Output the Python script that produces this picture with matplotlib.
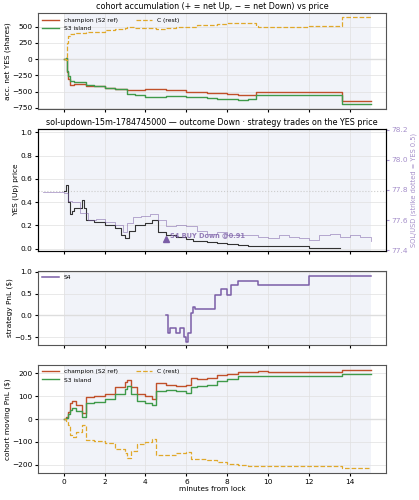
import matplotlib
matplotlib.use("Agg")
import matplotlib.pyplot as plt
import numpy as np

# top panel: accumulation
t_acc = [0, 0.1, 0.15, 0.2, 0.3, 0.5, 1.0, 1.1, 1.5, 2.0, 2.5, 3.0, 3.1, 3.5, 4.0, 4.5, 5.0, 5.5, 6.0, 6.5, 7.0, 7.5, 8.0, 8.5, 9.0, 9.4, 9.5, 10, 11, 12, 13, 13.5, 13.6, 15]
champ = [0, 20, -200, -300, -400, -380, -390, -410, -420, -440, -455, -460, -480, -470, -460, -465, -470, -480, -500, -510, -520, -520, -540, -550, -560, -500, -510, -510, -510, -510, -510, -510, -640, -640]
s3 = [0, 10, -180, -260, -340, -360, -350, -400, -420, -440, -455, -460, -530, -560, -580, -590, -570, -575, -580, -590, -600, -610, -620, -630, -620, -550, -560, -560, -560, -560, -560, -560, -690, -690]
crest = [0, -10, 250, 350, 390, 400, 400, 410, 420, 440, 460, 470, 500, 480, 470, 460, 480, 490, 500, 520, 530, 540, 550, 560, 560, 510, 500, 500, 500, 505, 510, 510, 640, 640]

# second panel: YES price and SOL
t_yes = [0, 0.1, 0.2, 0.3, 0.4, 0.5, 0.7, 0.9, 1.0, 1.1, 1.5, 2.0, 2.5, 2.8, 3.0, 3.2, 3.5, 4.0, 4.3, 4.5, 4.6, 5.0, 5.5, 6.0, 6.3, 7.0, 7.5, 8.0, 8.5, 9.0, 10, 11, 12, 13.5]
yes = [0.5, 0.55, 0.4, 0.3, 0.32, 0.35, 0.35, 0.42, 0.35, 0.25, 0.23, 0.2, 0.18, 0.12, 0.09, 0.15, 0.2, 0.22, 0.25, 0.25, 0.14, 0.12, 0.1, 0.08, 0.07, 0.06, 0.05, 0.04, 0.03, 0.02, 0.02, 0.02, 0.01, 0.01]
t_sol = [-1.0, -0.2, 0, 0.2, 0.4, 0.8, 1.2, 1.6, 2.0, 2.5, 2.9, 3.1, 3.4, 3.8, 4.2, 4.6, 5.0, 5.5, 6.0, 6.5, 7.0, 7.5, 8.0, 8.5, 9.0, 9.5, 10, 10.5, 11, 11.5, 12, 12.5, 13, 13.5, 14, 14.5, 15]
sol = [77.79, 77.79, 77.78, 77.73, 77.72, 77.65, 77.6, 77.61, 77.59, 77.57, 77.52, 77.58, 77.62, 77.63, 77.64, 77.6, 77.56, 77.57, 77.56, 77.53, 77.51, 77.52, 77.5, 77.5, 77.5, 77.49, 77.48, 77.5, 77.49, 77.48, 77.47, 77.5, 77.51, 77.49, 77.5, 77.49, 77.46]

# third panel: strategy PnL
t_s4 = [5.0, 5.1, 5.2, 5.5, 5.7, 5.9, 6.0, 6.1, 6.2, 6.3, 6.4, 7.0, 7.4, 7.7, 8.0, 8.2, 8.5, 9.5, 12.0, 15.0]
s4 = [0.0, -0.4, -0.3, -0.4, -0.3, -0.5, -0.6, -0.4, 0.05, 0.2, 0.15, 0.15, 0.48, 0.6, 0.48, 0.7, 0.8, 0.7, 0.9, 0.91]

# bottom panel: cohort moving PnL
t_pnl = [0, 0.1, 0.2, 0.3, 0.4, 0.6, 0.9, 1.1, 1.5, 2.0, 2.5, 3.0, 3.1, 3.3, 3.6, 4.0, 4.3, 4.5, 5.0, 5.5, 6.0, 6.2, 6.5, 7.0, 7.5, 8.0, 8.5, 9.0, 9.5, 10, 12, 13.6, 15]
champ_pnl = [0, 10, 30, 70, 80, 60, 25, 95, 100, 110, 140, 160, 170, 140, 110, 100, 85, 155, 150, 145, 150, 180, 175, 180, 190, 195, 205, 205, 208, 205, 205, 215, 215]
s3_pnl = [0, 5, 20, 40, 50, 35, 10, 70, 75, 85, 110, 130, 145, 110, 80, 70, 60, 120, 125, 120, 115, 140, 145, 150, 165, 175, 185, 185, 185, 185, 185, 195, 195]
c_pnl = [0, -10, -25, -70, -80, -55, -25, -90, -95, -105, -130, -150, -170, -140, -110, -100, -85, -155, -155, -150, -145, -175, -175, -180, -185, -195, -200, -205, -205, -205, -205, -212, -212]

red, green, gold, purple = "#c0502a", "#3f9a4a", "#e0a82a", "#7b5ea7"
FS = 5.3

fig = plt.figure(figsize=(4.19, 5.0), dpi=100)
L, W = 38/419, 348/419
def ax_at(top, bot):
    return fig.add_axes([L, 1-bot/500, W, (bot-top)/500])
axes = [ax_at(13.5, 108.5), ax_at(129, 251), ax_at(271, 345), ax_at(365, 473)]
for a in axes:
    a.set_xlim(-1.25, 15.75)
    a.axvspan(0, 15, color="#eef0f8", alpha=0.8, lw=0)
    a.grid(True, color="#e0e0e0", lw=0.5)
    a.tick_params(labelsize=FS, length=2.5, pad=1.5)
    a.set_xticks([0, 2, 4, 6, 8, 10, 12, 14])
    if a is not axes[-1]:
        a.set_xticklabels([])
    for s in a.spines.values():
        s.set_color("#555555")

a = axes[0]
a.axhline(0, color="#dddddd", lw=1)
a.step(t_acc, champ, where="post", color=red, lw=1.0, label="champion (S2 ref)")
a.step(t_acc, s3, where="post", color=green, lw=1.0, label="S3 island")
a.step(t_acc, crest, where="post", color=gold, lw=0.9, ls="--", label="C (rest)")
a.set_ylim(-760, 700)
a.set_yticks([-750, -500, -250, 0, 250, 500])
a.set_ylabel("acc. net YES (shares)", fontsize=FS, labelpad=1)
a.set_title("cohort accumulation (+ = net Up, − = net Down) vs price", fontsize=5.8, pad=3)
a.legend(loc="upper left", ncol=2, fontsize=4.3, frameon=False, handlelength=2.8, columnspacing=3, borderaxespad=0.3)

a = axes[1]
a.axhline(0.5, color="#cccccc", lw=0.8, ls=":")
a.step(t_yes, yes, where="post", color="#333333", lw=0.8)
a.plot([5.0], [0.08], marker="^", color=purple, ms=5)
a.text(5.2, 0.1, "S4 BUY Down @0.91", color=purple, fontsize=4.8, fontweight="bold", alpha=0.8)
a.set_ylim(-0.02, 1.03)
a.set_ylabel("YES (Up) price", fontsize=FS, labelpad=1)
a.set_title("sol-updown-15m-1784745000 — outcome Down · strategy trades on the YES price", fontsize=5.8, pad=3)
a2 = a.twinx()
a2.step(t_sol, sol, where="post", color=purple, lw=0.6, alpha=0.6)
a2.set_ylim(77.395, 78.205)
a2.set_yticks([77.4, 77.6, 77.8, 78.0, 78.2])
a2.tick_params(labelsize=FS, colors="#a58fca", length=2.5, pad=1.5)
a2.set_ylabel("SOL/USD (strike dotted = YES 0.5)", fontsize=4.8, color="#a58fca", labelpad=2)

a = axes[2]
a.axhline(0, color="#dddddd", lw=1)
a.step(t_s4, s4, where="post", color=purple, lw=1.1, label="S4")
a.set_ylim(-0.68, 1.02)
a.set_yticks([-0.5, 0.0, 0.5, 1.0])
a.set_ylabel("strategy PnL ($)", fontsize=FS, labelpad=1)
a.legend(loc="upper left", fontsize=4.3, frameon=False, handlelength=2.8, borderaxespad=0.3)

a = axes[3]
a.axhline(0, color="#dddddd", lw=1)
a.step(t_pnl, champ_pnl, where="post", color=red, lw=1.0, label="champion (S2 ref)")
a.step(t_pnl, s3_pnl, where="post", color=green, lw=1.0, label="S3 island")
a.step(t_pnl, c_pnl, where="post", color=gold, lw=0.9, ls="--", label="C (rest)")
a.set_ylim(-235, 235)
a.set_yticks([-200, -100, 0, 100, 200])
a.set_ylabel("cohort moving PnL ($)", fontsize=FS, labelpad=1)
a.set_xlabel("minutes from lock", fontsize=FS, labelpad=1)
a.legend(loc="upper left", ncol=2, fontsize=4.3, frameon=False, handlelength=2.8, columnspacing=3, borderaxespad=0.3)

fig.savefig("out.png", dpi=100)
